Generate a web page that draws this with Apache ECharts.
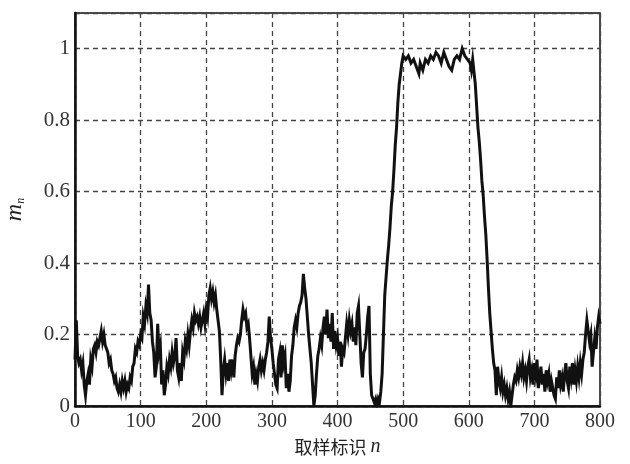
<!DOCTYPE html>
<html>
<head>
<meta charset="utf-8">
<script src="https://cdn.jsdelivr.net/npm/echarts@6/dist/echarts.min.js"></script>
<style>
  html, body { margin: 0; padding: 0; background: #fff; }
  #chart { width: 630px; height: 464px; }
</style>
</head>
<body>
<div id="chart"></div>
<script>
  // 取样标识 n
  var sampleIds = [
    0, 2, 4, 6, 8, 10, 12, 14, 16, 18, 20, 22, 24, 26, 28, 30, 32, 34, 36, 38,
    40, 42, 44, 46, 48, 50, 52, 54, 56, 58, 60, 62, 64, 66, 68, 70, 72, 74, 76, 78,
    80, 82, 84, 86, 88, 90, 92, 94, 96, 98, 100, 102, 104, 106, 108, 110, 112, 114, 116, 118,
    120, 122, 124, 126, 128, 130, 132, 134, 136, 138, 140, 142, 144, 146, 148, 150, 152, 154, 156, 158,
    160, 162, 164, 166, 168, 170, 172, 174, 176, 178, 180, 182, 184, 186, 188, 190, 192, 194, 196, 198,
    200, 202, 204, 206, 208, 210, 212, 214, 216, 218, 220, 222, 224, 226, 228, 230, 232, 234, 236, 238,
    240, 242, 244, 246, 248, 250, 252, 254, 256, 258, 260, 262, 264, 266, 268, 270, 272, 274, 276, 278,
    280, 282, 284, 286, 288, 290, 292, 294, 296, 298, 300, 302, 304, 306, 308, 310, 312, 314, 316, 318,
    320, 322, 324, 326, 328, 330, 332, 334, 336, 338, 340, 342, 344, 346, 348, 350, 352, 354, 356, 358,
    360, 362, 364, 366, 368, 370, 372, 374, 376, 378, 380, 382, 384, 386, 388, 390, 392, 394, 396, 398,
    400, 402, 404, 406, 408, 410, 412, 414, 416, 418, 420, 422, 424, 426, 428, 430, 432, 434, 436, 438,
    440, 442, 444, 446, 448, 450, 452, 454, 456, 458, 460, 462, 464, 466, 468, 470, 472, 474, 476, 478,
    480, 482, 484, 486, 488, 490, 492, 494, 496, 498, 500, 504, 508, 512, 516, 520, 524, 526, 530, 534,
    538, 542, 546, 550, 554, 558, 562, 566, 570, 574, 578, 582, 586, 590, 594, 598, 602, 604, 606, 608,
    610, 612, 614, 616, 618, 620, 622, 624, 626, 628, 630, 632, 634, 636, 638, 640, 642, 644, 646, 648,
    650, 652, 654, 656, 658, 660, 662, 664, 666, 668, 670, 672, 674, 676, 678, 680, 682, 684, 686, 688,
    690, 692, 694, 696, 698, 700, 702, 704, 706, 708, 710, 712, 714, 716, 718, 720, 722, 724, 726, 728,
    730, 732, 734, 736, 738, 740, 742, 744, 746, 748, 750, 752, 754, 756, 758, 760, 762, 764, 766, 768,
    770, 772, 774, 776, 778, 780, 782, 784, 786, 788, 790, 792, 794, 796, 798, 800
  ];
  // m_n
  var mValues = [
    0.13, 0.24, 0.14, 0.12, 0.13, 0.10, 0.12, 0.06, 0.03, 0.07, 0.09, 0.06, 0.13, 0.11, 0.16, 0.17, 0.15, 0.18, 0.17, 0.19,
    0.21, 0.18, 0.20, 0.17, 0.16, 0.15, 0.12, 0.13, 0.10, 0.09, 0.07, 0.08, 0.05, 0.04, 0.06, 0.04, 0.07, 0.05, 0.07, 0.04,
    0.06, 0.05, 0.08, 0.07, 0.11, 0.12, 0.16, 0.15, 0.18, 0.17, 0.20, 0.19, 0.25, 0.23, 0.28, 0.26, 0.34, 0.26, 0.24, 0.18,
    0.15, 0.08, 0.11, 0.23, 0.15, 0.17, 0.06, 0.10, 0.03, 0.06, 0.11, 0.09, 0.13, 0.11, 0.15, 0.12, 0.14, 0.19, 0.10, 0.08,
    0.12, 0.07, 0.15, 0.13, 0.18, 0.16, 0.20, 0.17, 0.21, 0.24, 0.22, 0.26, 0.24, 0.25, 0.23, 0.25, 0.22, 0.24, 0.26, 0.23,
    0.27, 0.25, 0.31, 0.33, 0.30, 0.32, 0.29, 0.31, 0.27, 0.24, 0.21, 0.13, 0.03, 0.10, 0.13, 0.09, 0.12, 0.07, 0.13, 0.10,
    0.13, 0.08, 0.14, 0.17, 0.19, 0.18, 0.20, 0.24, 0.27, 0.25, 0.26, 0.22, 0.23, 0.19, 0.14, 0.09, 0.11, 0.06, 0.09, 0.07,
    0.11, 0.13, 0.10, 0.12, 0.10, 0.13, 0.15, 0.18, 0.25, 0.19, 0.16, 0.12, 0.09, 0.06, 0.05, 0.13, 0.15, 0.08, 0.17, 0.12,
    0.14, 0.05, 0.09, 0.04, 0.07, 0.14, 0.17, 0.22, 0.24, 0.22, 0.26, 0.28, 0.29, 0.31, 0.37, 0.33, 0.30, 0.25, 0.20, 0.16,
    0.12, 0.06, 0.00, 0.03, 0.09, 0.14, 0.16, 0.19, 0.17, 0.22, 0.25, 0.20, 0.27, 0.19, 0.23, 0.18, 0.26, 0.16, 0.21, 0.17,
    0.19, 0.14, 0.18, 0.11, 0.16, 0.15, 0.19, 0.23, 0.20, 0.24, 0.21, 0.23, 0.18, 0.22, 0.17, 0.26, 0.28, 0.20, 0.12, 0.08,
    0.15, 0.16, 0.20, 0.25, 0.28, 0.09, 0.03, 0.02, 0.01, 0.02, 0.00, 0.02, 0.01, 0.04, 0.09, 0.20, 0.31, 0.36, 0.41, 0.45,
    0.50, 0.56, 0.60, 0.66, 0.73, 0.78, 0.85, 0.90, 0.93, 0.96, 0.98, 0.97, 0.98, 0.96, 0.97, 0.95, 0.93, 0.96, 0.94, 0.97,
    0.96, 0.98, 0.97, 0.99, 0.98, 0.96, 0.99, 0.97, 0.95, 0.94, 0.97, 0.98, 0.97, 1.00, 0.98, 0.97, 0.96, 0.94, 0.97, 0.97,
    0.90, 0.84, 0.78, 0.74, 0.69, 0.63, 0.59, 0.53, 0.48, 0.41, 0.33, 0.26, 0.21, 0.16, 0.12, 0.10, 0.03, 0.11, 0.07, 0.05,
    0.08, 0.04, 0.06, 0.03, 0.05, 0.02, 0.04, 0.00, 0.03, 0.06, 0.08, 0.07, 0.10, 0.08, 0.11, 0.09, 0.12, 0.08, 0.10, 0.07,
    0.11, 0.13, 0.08, 0.10, 0.06, 0.12, 0.09, 0.13, 0.05, 0.08, 0.11, 0.06, 0.09, 0.04, 0.10, 0.07, 0.09, 0.04, 0.07, 0.05,
    0.03, 0.02, 0.08, 0.05, 0.10, 0.06, 0.08, 0.04, 0.09, 0.12, 0.07, 0.05, 0.11, 0.08, 0.12, 0.06, 0.10, 0.07, 0.11, 0.08,
    0.12, 0.09, 0.13, 0.15, 0.20, 0.24, 0.21, 0.18, 0.20, 0.11, 0.15, 0.19, 0.16, 0.22, 0.25, 0.23
  ];
  var xTicks = [0, 100, 200, 300, 400, 500, 600, 700, 800];
  var yTicks = [0, 0.2, 0.4, 0.6, 0.8, 1];

  var points = sampleIds.map(function (n, i) { return [n, mValues[i]]; });

  var serif = '"Liberation Serif", "DejaVu Serif", serif';
  var myChart = echarts.init(document.getElementById('chart'));
  var option = {
    backgroundColor: '#fff',
    animation: false,
    grid: {
      left: 75, right: 30, top: 13, bottom: 58,
      outerBoundsMode: 'none',
      containLabel: false,
      show: true,
      borderColor: '#111',
      borderWidth: 1.5
    },
    xAxis: {
      type: 'value',
      min: xTicks[0],
      max: xTicks[xTicks.length - 1],
      interval: 100,
      name: '{cn|取样标识 }{it|n}',
      nameLocation: 'middle',
      nameGap: 31,
      nameTextStyle: {
        rich: {
          cn: { fontFamily: '"Noto Sans CJK SC", sans-serif', fontSize: 18, color: '#222' },
          it: { fontFamily: serif, fontStyle: 'italic', fontSize: 20, color: '#222' }
        }
      },
      axisLine: { show: true, onZero: false, lineStyle: { color: '#111', width: 2.5 } },
      axisTick: { show: false },
      axisLabel: { fontFamily: serif, fontSize: 20, color: '#333', margin: 6 },
      splitLine: { show: true, lineStyle: { color: '#444', type: [5, 4], width: 1.3 } }
    },
    yAxis: {
      type: 'value',
      min: 0,
      max: 1.1,
      interval: 0.2,
      name: '{it|m}{sub|n}',
      nameLocation: 'middle',
      nameGap: 48,
      nameRotate: 90,
      nameTextStyle: {
        rich: {
          it: { fontFamily: serif, fontStyle: 'italic', fontSize: 24, color: '#222' },
          sub: { fontFamily: serif, fontStyle: 'italic', fontSize: 12, color: '#222', verticalAlign: 'bottom', padding: [8, 0, 0, 0] }
        }
      },
      axisLine: { show: true, onZero: false, lineStyle: { color: '#111', width: 2.5 } },
      axisTick: { show: false },
      axisLabel: {
        fontFamily: serif, fontSize: 21, color: '#333', margin: 5,
        showMaxLabel: false,
        formatter: function (v) {
          return yTicks.indexOf(Math.round(v * 10) / 10) >= 0 ? String(Math.round(v * 10) / 10) : '';
        }
      },
      splitLine: { show: true, lineStyle: { color: '#444', type: [5, 4], width: 1.3 } }
    },
    series: [{
      type: 'line',
      data: points,
      showSymbol: false,
      lineStyle: { color: '#111', width: 3, join: 'miter' }
    }]
  };
  myChart.setOption(option);
</script>
</body>
</html>
